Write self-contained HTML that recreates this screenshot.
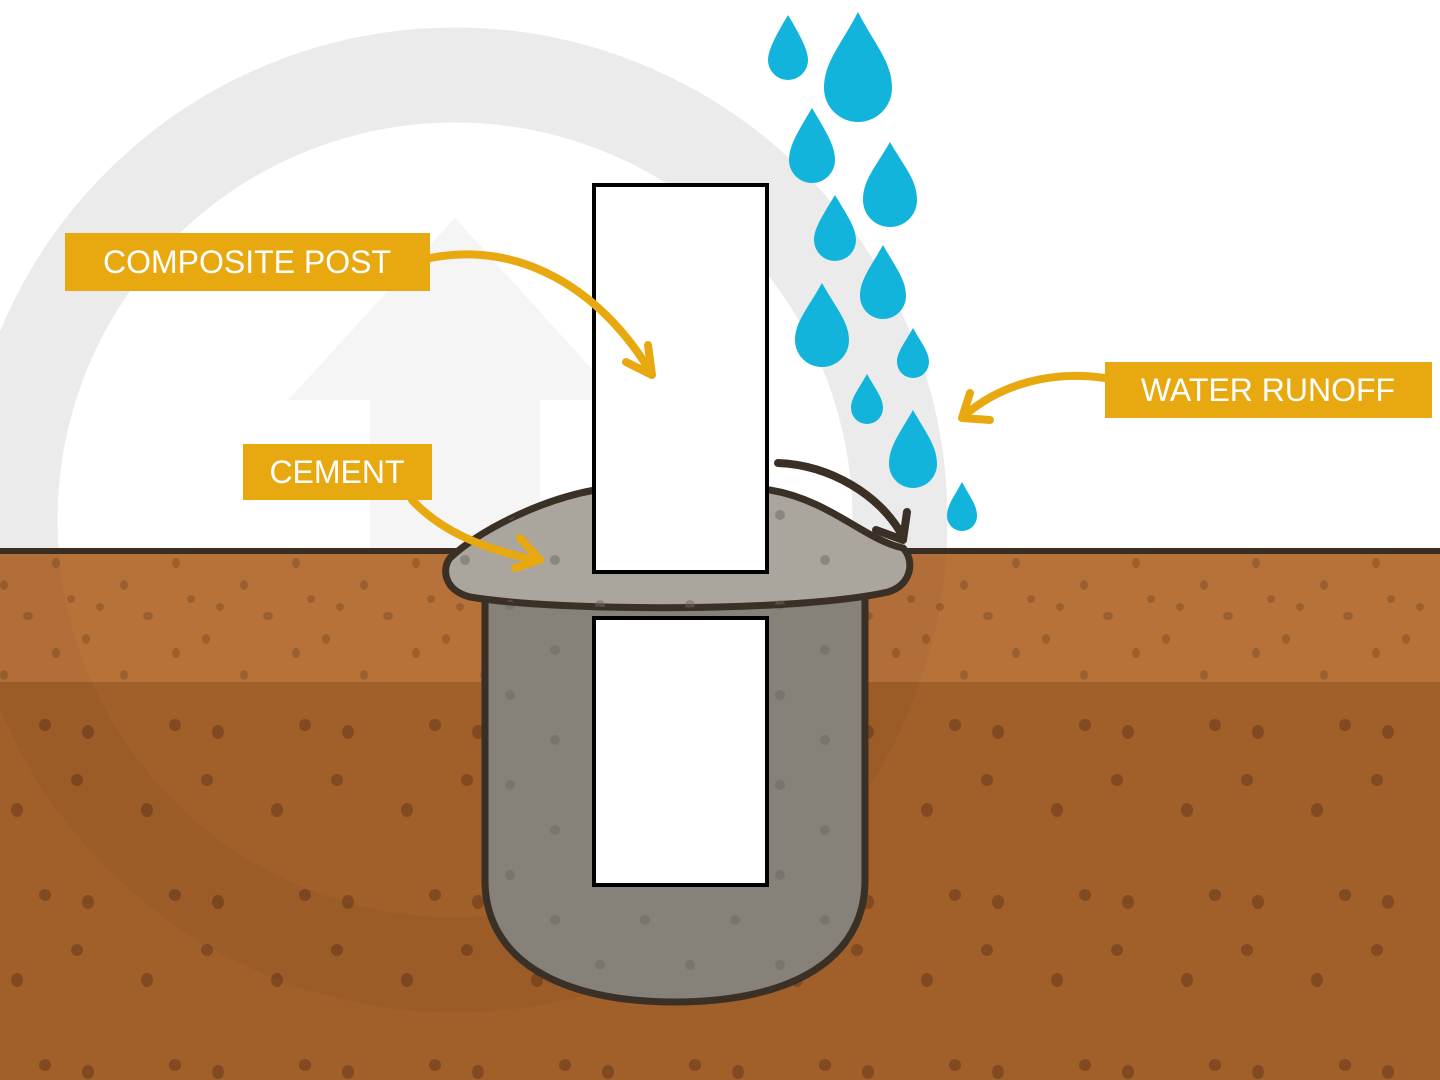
<!DOCTYPE html>
<html><head><style>html,body{margin:0;padding:0;background:#fff}svg{display:block}</style></head>
<body>
<svg width="1440" height="1080" viewBox="0 0 1440 1080" xmlns="http://www.w3.org/2000/svg">
<defs>
<pattern id="d1" width="120" height="90" patternUnits="userSpaceOnUse" x="0" y="555">
<ellipse cx="4" cy="30" rx="4" ry="5" fill="#8a5227" opacity=".6"/>
<ellipse cx="71" cy="44" rx="4" ry="4" fill="#8a5227" opacity=".6"/>
<ellipse cx="28" cy="61" rx="5" ry="4" fill="#8a5227" opacity=".6"/>
<ellipse cx="100" cy="52" rx="4" ry="4" fill="#8a5227" opacity=".6"/>
<ellipse cx="56" cy="8" rx="4" ry="5" fill="#8a5227" opacity=".6"/>
<ellipse cx="86" cy="84" rx="4" ry="5" fill="#8a5227" opacity=".6"/>
</pattern>
<pattern id="d2" width="130" height="170" patternUnits="userSpaceOnUse" x="0" y="700">
<ellipse cx="45" cy="25" rx="6" ry="6" fill="#74421c" opacity=".7"/>
<ellipse cx="88" cy="32" rx="6" ry="7" fill="#74421c" opacity=".7"/>
<ellipse cx="77" cy="80" rx="6" ry="6" fill="#74421c" opacity=".7"/>
<ellipse cx="17" cy="110" rx="6" ry="7" fill="#74421c" opacity=".7"/>
</pattern>
<pattern id="d3" width="90" height="90" patternUnits="userSpaceOnUse">
<circle cx="15" cy="20" r="5" fill="#6c675f" opacity=".5"/>
<circle cx="60" cy="65" r="5" fill="#6c675f" opacity=".5"/>
</pattern>
</defs>
<!-- watermark -->
<circle cx="455" cy="520" r="445" fill="none" stroke="#f3f3f3" stroke-width="95"/>
<polygon points="455,218 620,400 540,400 540,680 370,680 370,400 288,400" fill="#f5f5f5"/>
<!-- soil -->
<rect x="0" y="550" width="1440" height="132" fill="#b7723a"/>
<rect x="0" y="550" width="1440" height="132" fill="url(#d1)"/>
<rect x="0" y="682" width="1440" height="398" fill="#a15f2a"/>
<rect x="0" y="682" width="1440" height="398" fill="url(#d2)"/>
<circle cx="455" cy="520" r="445" fill="none" stroke="#000" stroke-opacity=".03" stroke-width="95"/>
<line x1="0" y1="551" x2="1440" y2="551" stroke="#3a2e22" stroke-width="6"/>
<!-- hole -->
<path d="M485 595 L485 880 C485 960 560 1002 675 1002 C790 1002 865 960 865 880 L865 595 Z" fill="#868179" stroke="#3b3026" stroke-width="7"/>
<path d="M485 595 L485 880 C485 960 560 1002 675 1002 C790 1002 865 960 865 880 L865 595 Z" fill="url(#d3)"/>
<!-- cap -->
<path d="M450 558 C480 530 540 500 595 490 L770 490 C830 500 865 540 903 548 C915 560 912 585 888 592 C800 612 560 612 470 597 C443 590 442 568 450 558 Z" fill="#aaa59d" stroke="#3b3026" stroke-width="7"/>
<path d="M450 558 C480 530 540 500 595 490 L770 490 C830 500 865 540 903 548 C915 560 912 585 888 592 C800 612 560 612 470 597 C443 590 442 568 450 558 Z" fill="url(#d3)"/>
<!-- post -->
<rect x="594" y="185" width="173" height="387" fill="#fff" stroke="#000" stroke-width="4"/>
<rect x="594" y="618" width="173" height="267" fill="#fff" stroke="#000" stroke-width="4"/>
<!-- brown arrow -->
<path d="M778 463 C830 465 880 495 902 535" fill="none" stroke="#3b3026" stroke-width="8" stroke-linecap="round"/>
<path d="M876 530 L903 540 L907 512" fill="none" stroke="#3b3026" stroke-width="8" stroke-linecap="round" stroke-linejoin="round"/>
<!-- drops -->
<g fill="#13b4dc">
<path d="M788 15 C800 35 808 50 808 60 A20 20 0 0 1 768 60 C768 50 776 35 788 15Z"/>
<path d="M858 12 C875 45 892 62 892 88 A34 34 0 0 1 824 88 C824 62 841 45 858 12Z"/>
<path d="M812 108 C825 130 835 145 835 160 A23 23 0 0 1 789 160 C789 145 799 130 812 108Z"/>
<path d="M890 142 C905 168 917 180 917 200 A27 27 0 0 1 863 200 C863 180 875 168 890 142Z"/>
<path d="M835 195 C847 215 856 228 856 240 A21 21 0 0 1 814 240 C814 228 823 215 835 195Z"/>
<path d="M883 245 C896 268 906 280 906 296 A23 23 0 0 1 860 296 C860 280 870 268 883 245Z"/>
<path d="M822 283 C836 308 849 322 849 340 A27 27 0 0 1 795 340 C795 322 808 308 822 283Z"/>
<path d="M913 328 C922 344 929 352 929 362 A16 16 0 0 1 897 362 C897 352 904 344 913 328Z"/>
<path d="M867 374 C876 390 883 398 883 408 A16 16 0 0 1 851 408 C851 398 858 390 867 374Z"/>
<path d="M913 410 C926 433 937 446 937 464 A24 24 0 0 1 889 464 C889 446 900 433 913 410Z"/>
<path d="M962 482 C970 497 977 505 977 516 A15 15 0 0 1 947 516 C947 505 954 497 962 482Z"/>
</g>
<!-- yellow arrows -->
<g fill="none" stroke="#e8a80f" stroke-width="8" stroke-linecap="round" stroke-linejoin="round">
<path d="M430 258 C520 240 600 290 648 368"/>
<path d="M626 362 L652 375 L648 345"/>
<path d="M412 500 C440 530 480 548 535 560"/>
<path d="M520 538 L540 560 L515 568"/>
<path d="M1105 378 C1050 370 1000 385 965 415"/>
<path d="M990 420 L962 418 L970 393"/>
</g>
<!-- labels -->
<g font-family="Liberation Sans, sans-serif" font-size="32" fill="#fff">
<rect x="65" y="233" width="365" height="58" fill="#e8a80f"/>
<text x="247" y="273" text-anchor="middle">COMPOSITE POST</text>
<rect x="243" y="444" width="189" height="56" fill="#e8a80f"/>
<text x="337" y="483" text-anchor="middle">CEMENT</text>
<rect x="1105" y="362" width="327" height="56" fill="#e8a80f"/>
<text x="1268" y="401" text-anchor="middle">WATER RUNOFF</text>
</g>
</svg>
</body></html>
